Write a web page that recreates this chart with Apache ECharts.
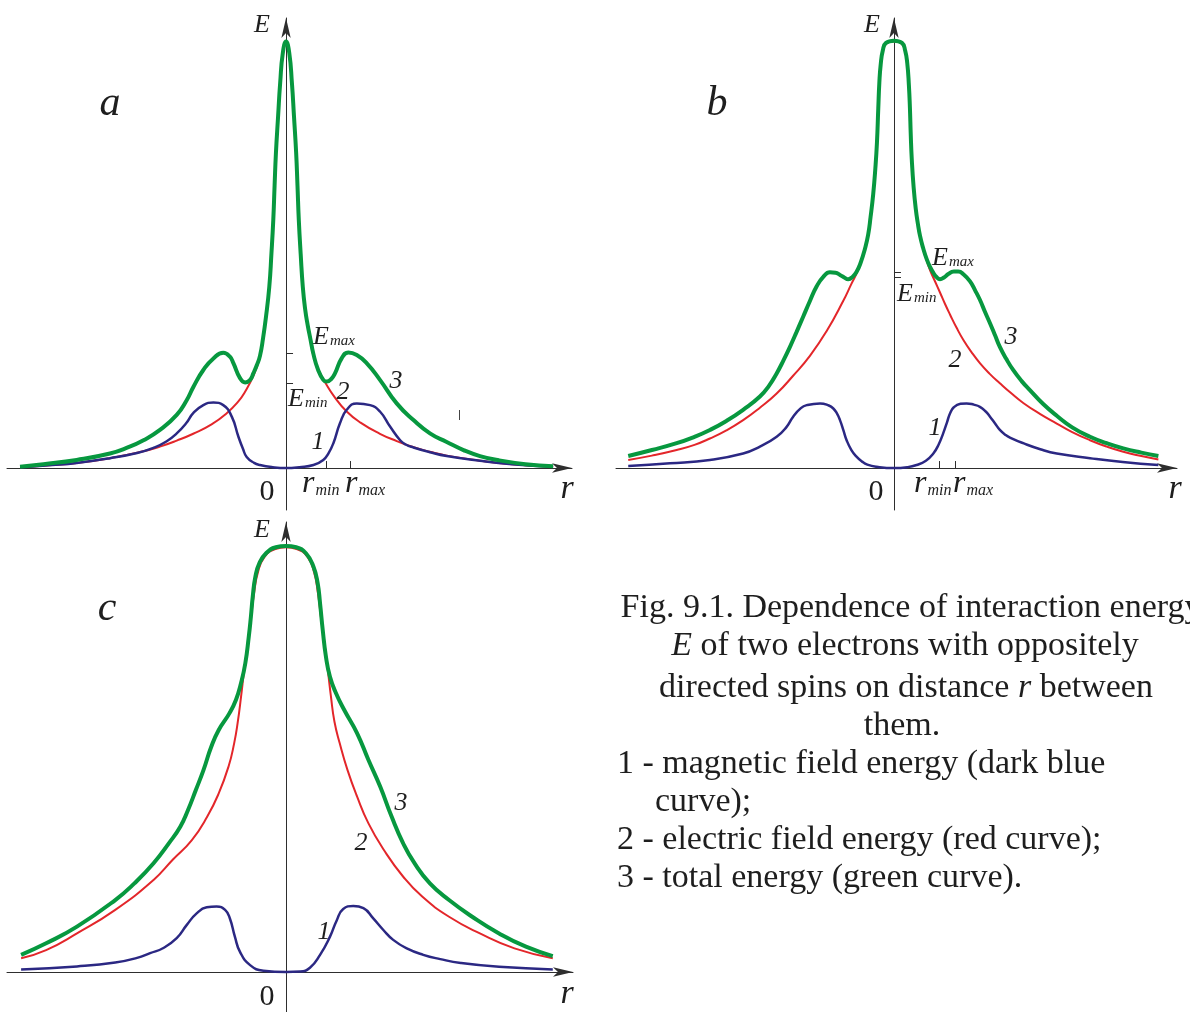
<!DOCTYPE html>
<html>
<head>
<meta charset="utf-8">
<script src="https://cdn.jsdelivr.net/npm/echarts@6/dist/echarts.min.js"></script>
<style>
html,body{margin:0;padding:0;background:#fff;}
#chart{width:1190px;height:1012px;}
</style>
</head>
<body>
<div id="chart"></div>
<script>
// ---------- data: [r, E] (E peak ~ 10) ----------
// panel a
const aBlue = [[-10,0.02],[-8.8,0.07],[-7.87,0.12],[-6.62,0.23],[-5.6,0.35],[-4.99,0.47],[-4.5,0.62],[-4.11,0.81],[-3.75,1.05],[-3.49,1.28],[-3.11,1.47],[-2.73,1.53],[-2.36,1.47],[-2.04,1.20],[-1.79,0.73],[-1.62,0.45],[-1.48,0.26],[-1.2,0.12],[-0.98,0.07],[-0.5,0.02],[0,0],
  [0.5,0.02],[1.03,0.07],[1.40,0.19],[1.6,0.35],[1.78,0.58],[2.03,1.05],[2.28,1.36],[2.66,1.51],[3.16,1.47],[3.53,1.32],[3.91,0.97],[4.29,0.65],[4.5,0.55],[4.79,0.48],[5.41,0.37],[6.04,0.28],[7.29,0.17],[8.5,0.09],[10.04,0.03]];
const aRed = [[-10,0.02],[-8.8,0.07],[-7.87,0.12],[-6.62,0.23],[-5.37,0.39],[-4.74,0.50],[-4.11,0.64],[-3.49,0.80],[-2.8,1.02],[-2.23,1.28],[-1.8,1.55],[-1.54,1.78],[-1.23,2.15],[-1.0,2.55],[-0.86,3.0],[-0.76,3.5],[-0.63,4.23],[-0.55,5.0],[-0.48,5.79],[-0.43,6.6],[-0.38,7.36],[-0.30,8.2],[-0.22,9.0],[-0.12,9.65],[0,9.92],
  [0.12,9.65],[0.22,9.0],[0.30,8.2],[0.38,7.36],[0.43,6.6],[0.48,5.79],[0.55,5.0],[0.63,4.23],[0.72,3.7],[0.81,3.33],[0.92,2.97],[1.03,2.62],[1.25,2.25],[1.5,1.97],[1.8,1.68],[2.28,1.32],[2.8,1.06],[3.53,0.80],[4.16,0.63],[4.77,0.49],[5.41,0.38],[6.04,0.29],[7.29,0.17],[8.5,0.09],[10.04,0.03]];
const aGreen = [[-10,0.03],[-9.12,0.09],[-7.87,0.19],[-6.62,0.34],[-5.95,0.48],[-5.36,0.65],[-4.74,0.89],[-4.11,1.24],[-3.73,1.59],[-3.48,1.90],[-3.11,2.29],[-2.73,2.56],[-2.36,2.69],[-2.11,2.60],[-1.98,2.45],[-1.73,2.10],[-1.54,2.00],[-1.35,2.06],[-1.23,2.21],[-1.1,2.4],[-0.98,2.62],[-0.86,3.05],[-0.76,3.5],[-0.63,4.23],[-0.55,5.0],[-0.48,5.79],[-0.43,6.6],[-0.38,7.36],[-0.30,8.2],[-0.22,9.0],[-0.12,9.7],[0,9.96],
  [0.12,9.7],[0.22,9.0],[0.30,8.2],[0.38,7.36],[0.43,6.6],[0.48,5.79],[0.55,5.0],[0.63,4.23],[0.72,3.7],[0.81,3.35],[0.92,3.0],[1.03,2.66],[1.2,2.3],[1.40,2.06],[1.53,2.02],[1.7,2.08],[1.84,2.21],[2.09,2.56],[2.34,2.70],[2.66,2.64],[3.03,2.45],[3.53,2.06],[4.16,1.51],[4.79,1.12],[5.41,0.81],[6.04,0.61],[6.67,0.42],[7.29,0.28],[8.0,0.18],[9.0,0.09],[10.04,0.04]];
const aRTicks = [1.5, 2.41];   // r_min, r_max
const aETicks = [1.99, 2.69];  // E_min, E_max

// panel b
const bBlue = [[-9.99,0.05],[-8.42,0.11],[-6.92,0.19],[-5.67,0.34],[-5.04,0.50],[-4.41,0.73],[-4.05,0.95],[-3.79,1.20],[-3.5,1.40],[-3.28,1.47],[-2.78,1.51],[-2.45,1.46],[-2.28,1.39],[-2.15,1.28],[-2.03,1.12],[-1.9,0.88],[-1.78,0.65],[-1.6,0.42],[-1.40,0.26],[-1.2,0.15],[-1.0,0.08],[-0.65,0.03],[0,0],
  [0.5,0.02],[0.85,0.07],[1.2,0.17],[1.48,0.34],[1.68,0.55],[1.85,0.81],[2.0,1.08],[2.11,1.28],[2.25,1.42],[2.5,1.50],[2.73,1.51],[3.0,1.48],[3.23,1.43],[3.45,1.32],[3.61,1.20],[3.8,1.04],[3.98,0.89],[4.2,0.77],[4.4,0.70],[4.86,0.58],[5.5,0.44],[6.12,0.34],[7.37,0.23],[8.6,0.14],[9.94,0.07]];
const bRed = [[-9.99,0.19],[-9.1,0.29],[-8.17,0.42],[-7.5,0.54],[-6.92,0.69],[-6.3,0.88],[-5.67,1.12],[-5.04,1.41],[-4.41,1.74],[-3.8,2.15],[-3.16,2.62],[-2.53,3.20],[-1.91,3.90],[-1.6,4.3],[-1.40,4.55],[-1.25,4.8],[-1.1,5.1],[-0.97,5.43],[-0.88,5.86],[-0.78,6.4],[-0.70,7.0],[-0.64,7.6],[-0.59,8.4],[-0.55,9.0],[-0.50,9.4],[-0.42,9.72],[-0.3,9.9],[0,9.96],
  [0.3,9.9],[0.42,9.72],[0.50,9.42],[0.56,8.9],[0.60,8.4],[0.63,7.8],[0.67,7.2],[0.74,6.55],[0.82,6.05],[0.9,5.7],[0.98,5.42],[1.09,5.12],[1.23,4.85],[1.35,4.63],[1.55,4.35],[1.73,4.10],[1.92,3.83],[2.11,3.58],[2.35,3.28],[2.61,2.99],[2.9,2.72],[3.23,2.45],[3.6,2.2],[3.98,1.98],[4.4,1.75],[4.86,1.52],[5.5,1.26],[6.12,1.04],[6.7,0.84],[7.37,0.65],[8.0,0.50],[8.62,0.38],[9.3,0.28],[9.94,0.20]];
const bGreen = [[-9.99,0.28],[-9.1,0.42],[-8.17,0.58],[-7.5,0.73],[-6.92,0.89],[-6.3,1.1],[-5.67,1.36],[-5.04,1.67],[-4.7,1.92],[-4.41,2.21],[-4.15,2.52],[-3.91,2.83],[-3.66,3.18],[-3.41,3.54],[-3.16,3.9],[-2.91,4.24],[-2.65,4.47],[-2.41,4.57],[-2.2,4.56],[-2.03,4.51],[-1.87,4.45],[-1.72,4.41],[-1.55,4.47],[-1.40,4.59],[-1.25,4.8],[-1.1,5.1],[-0.97,5.45],[-0.88,5.86],[-0.78,6.4],[-0.70,7.0],[-0.64,7.6],[-0.59,8.4],[-0.55,9.0],[-0.50,9.42],[-0.42,9.75],[-0.3,9.93],[0,9.98],
  [0.3,9.93],[0.42,9.75],[0.50,9.45],[0.56,8.95],[0.60,8.4],[0.63,7.8],[0.67,7.2],[0.74,6.55],[0.82,6.05],[0.9,5.7],[0.98,5.42],[1.09,5.15],[1.23,4.88],[1.37,4.68],[1.48,4.56],[1.6,4.46],[1.73,4.41],[1.88,4.45],[2.04,4.53],[2.25,4.59],[2.42,4.59],[2.62,4.52],[2.86,4.36],[3.05,4.15],[3.23,3.93],[3.42,3.65],[3.61,3.38],[3.80,3.1],[3.98,2.83],[4.22,2.55],[4.48,2.29],[4.8,2.03],[5.11,1.82],[5.6,1.5],[6.12,1.22],[6.7,0.95],[7.37,0.73],[8.0,0.58],[8.62,0.46],[9.3,0.36],[9.94,0.28]];
const bRTicks = [1.72, 2.29];
const bETicks = [4.46, 4.58];

// panel c
const cBlue = [[-9.96,0.06],[-7.86,0.13],[-6.42,0.22],[-5.6,0.33],[-5.11,0.44],[-4.61,0.56],[-4.11,0.79],[-3.73,1.10],[-3.36,1.37],[-2.98,1.51],[-2.61,1.53],[-2.29,1.45],[-2.11,1.25],[-1.92,0.82],[-1.73,0.47],[-1.35,0.16],[-0.85,0.03],[0,0],
  [0.53,0.01],[0.90,0.10],[1.28,0.40],[1.65,0.82],[1.91,1.21],[2.15,1.47],[2.53,1.54],[2.91,1.49],[3.28,1.25],[3.66,0.98],[4.03,0.75],[4.54,0.55],[5.16,0.40],[5.8,0.30],[6.57,0.21],[8.01,0.12],[10.03,0.06]];
const cRed = [[-9.96,0.32],[-9.02,0.51],[-7.86,0.90],[-6.42,1.45],[-4.98,2.15],[-4.26,2.62],[-3.54,3.08],[-2.96,3.63],[-2.53,4.17],[-2.16,4.80],[-1.95,5.34],[-1.82,5.81],[-1.69,6.43],[-1.57,7.06],[-1.44,7.65],[-1.32,8.25],[-1.2,8.85],[-1.05,9.35],[-0.8,9.7],[-0.4,9.88],[0,9.92],
  [0.4,9.88],[0.8,9.7],[1.05,9.35],[1.2,8.85],[1.32,8.25],[1.44,7.70],[1.57,7.06],[1.69,6.43],[1.82,5.85],[2.02,5.34],[2.31,4.72],[2.67,4.10],[3.10,3.47],[3.68,2.85],[4.40,2.23],[5.12,1.76],[6.13,1.29],[7.29,0.90],[8.59,0.55],[10.03,0.32]];
const cGreen = [[-9.96,0.40],[-9.02,0.67],[-7.86,1.06],[-6.42,1.68],[-5.70,2.07],[-4.98,2.54],[-4.40,3.01],[-3.97,3.40],[-3.68,3.79],[-3.39,4.25],[-3.10,4.72],[-2.81,5.26],[-2.53,5.65],[-2.13,6.04],[-1.88,6.36],[-1.69,6.75],[-1.53,7.21],[-1.40,7.83],[-1.32,8.30],[-1.25,8.77],[-1.15,9.24],[-1.00,9.55],[-0.75,9.78],[-0.38,9.92],[0,9.95],
  [0.38,9.92],[0.75,9.78],[1.03,9.47],[1.19,9.08],[1.28,8.61],[1.38,7.99],[1.50,7.37],[1.65,6.90],[1.88,6.51],[2.19,6.12],[2.67,5.58],[3.10,4.95],[3.54,4.33],[3.97,3.63],[4.40,3.01],[4.83,2.54],[5.41,2.07],[6.13,1.68],[7.00,1.29],[8.01,0.90],[9.02,0.59],[10.03,0.37]];

const captionCentered = ['Fig. 9.1. Dependence of interaction energy', '{i|E} of two electrons with oppositely', 'directed spins on distance {i|r} between', 'them.'];
const captionList = ['1 - magnetic field energy (dark blue', 'curve);', '2 - electric field energy (red curve);', '3 - total energy (green curve).'];

// ---------- styling ----------
const FONT = 'Liberation Serif';
const C_BLUE = '#2b2883', C_RED = '#e3262a', C_GREEN = '#07983f', C_AXIS = '#2e2e2e';

const panels = [
  {grid:{left:7, top:18, width:565, height:492}, xr:[-10.49,10.75], yr:[-0.98,10.51], rt:aRTicks, et:aETicks, s:[aRed,aBlue,aGreen]},
  {grid:{left:616, top:18, width:561, height:492}, xr:[-10.45,10.64], yr:[-0.98,10.51], rt:bRTicks, et:bETicks, s:[bRed,bBlue,bGreen]},
  {grid:{left:7, top:522, width:566, height:490}, xr:[-10.49,10.79], yr:[-0.935,10.51], rt:[], et:[], s:[cRed,cBlue,cGreen]}
];

const grids = [], xAxes = [], yAxes = [], series = [];
panels.forEach((p, i) => {
  grids.push(Object.assign({containLabel:false}, p.grid));
  xAxes.push({
    type:'value', gridIndex:i, min:p.xr[0], max:p.xr[1],
    axisLine:{show:true, onZero:true, symbol:['none','arrow'], symbolSize:[7,20], lineStyle:{color:C_AXIS, width:1}},
    axisTick:{show:p.rt.length>0, inside:true, length:7, customValues:p.rt, lineStyle:{color:C_AXIS, width:1}},
    axisLabel:{show:false}, splitLine:{show:false}
  });
  yAxes.push({
    type:'value', gridIndex:i, min:p.yr[0], max:p.yr[1],
    axisLine:{show:true, onZero:true, symbol:['none','arrow'], symbolSize:[7,20], lineStyle:{color:C_AXIS, width:1}},
    axisTick:{show:p.et.length>0, inside:true, length:7, customValues:p.et, lineStyle:{color:C_AXIS, width:1}},
    axisLabel:{show:false}, splitLine:{show:false}
  });
  const cols = [C_RED, C_BLUE, C_GREEN], widths = [2, 2.5, 4];
  p.s.forEach((d, k) => {
    series.push({type:'line', xAxisIndex:i, yAxisIndex:i, data:d, smooth:0.5, symbol:'none',
      lineStyle:{color:cols[k], width:widths[k]}, silent:true, z:2+k});
  });
});

function t(x, y, text, size, italic, align) {
  return {type:'text', x:x, y:y, silent:true, z:100,
    style:{text:text, fontFamily:FONT, fontSize:size, fontStyle:italic?'italic':'normal', fill:'#1e1e1e',
      textAlign:align||'center', textVerticalAlign:'middle', verticalAlign:'middle'}};
}
function sub(x, y, main, s, size, ssize) {
  return {type:'text', x:x, y:y, silent:true, z:100,
    style:{text:'{m|'+main+'}{s|'+s+'}', fontFamily:FONT, fill:'#1e1e1e', textAlign:'left', textVerticalAlign:'bottom', verticalAlign:'bottom',
      rich:{m:{fontFamily:FONT, fontSize:size, fontStyle:'italic', fill:'#1e1e1e', verticalAlign:'bottom'},
            s:{fontFamily:FONT, fontSize:ssize, fontStyle:'italic', fill:'#1e1e1e', verticalAlign:'bottom', padding:[0,0,1,1]}}}};
}

const graphics = [
  // panel a
  t(262,25,'E',26,true), t(110,104,'a',42,true), t(267,492,'0',30,false), t(567,489,'r',34,true),
  sub(302,500,'r','min',32,16), sub(345,500,'r','max',32,16),
  sub(313,350,'E','max',26,15), sub(288,412,'E','min',26,15),
  t(318,442,'1',26,true), t(343,392,'2',26,true), t(396,381,'3',26,true),
  {type:'line', shape:{x1:459.5,y1:410,x2:459.5,y2:420}, style:{stroke:'#444', lineWidth:1}, silent:true},
  // panel b
  t(872,25,'E',26,true), t(717,104,'b',42,true), t(876,492,'0',30,false), t(1175,489,'r',34,true),
  sub(914,500,'r','min',32,16), sub(953,500,'r','max',32,16),
  sub(932,271,'E','max',26,15), sub(897,307,'E','min',26,15),
  t(935,428,'1',26,true), t(955,360,'2',26,true), t(1011,337,'3',26,true),
  // panel c
  t(262,530,'E',26,true), t(107,609,'c',42,true), t(267,997,'0',30,false), t(567,994,'r',34,true),
  t(324,932,'1',26,true), t(361,843,'2',26,true), t(401,803,'3',26,true)
];
const capRich = {i:{fontFamily:FONT, fontSize:34, fontStyle:'italic', fill:'#1e1e1e'}};
const capX = [911, 905, 906, 902], capY = [608, 646, 688, 726];
captionCentered.forEach((line, i) => {
  const g = t(capX[i], capY[i], line, 34, false, 'center'); g.style.rich = capRich; graphics.push(g);
});
const listX = [617, 655, 617, 617], listY = [764, 802, 840, 878];
captionList.forEach((line, i) => { graphics.push(t(listX[i], listY[i], line, 34, false, 'left')); });

const chart = echarts.init(document.getElementById('chart'), null, {renderer:'canvas'});
chart.setOption({
  animation:false, backgroundColor:'#ffffff',
  grid:grids, xAxis:xAxes, yAxis:yAxes, series:series, graphic:graphics
});
</script>
</body>
</html>
